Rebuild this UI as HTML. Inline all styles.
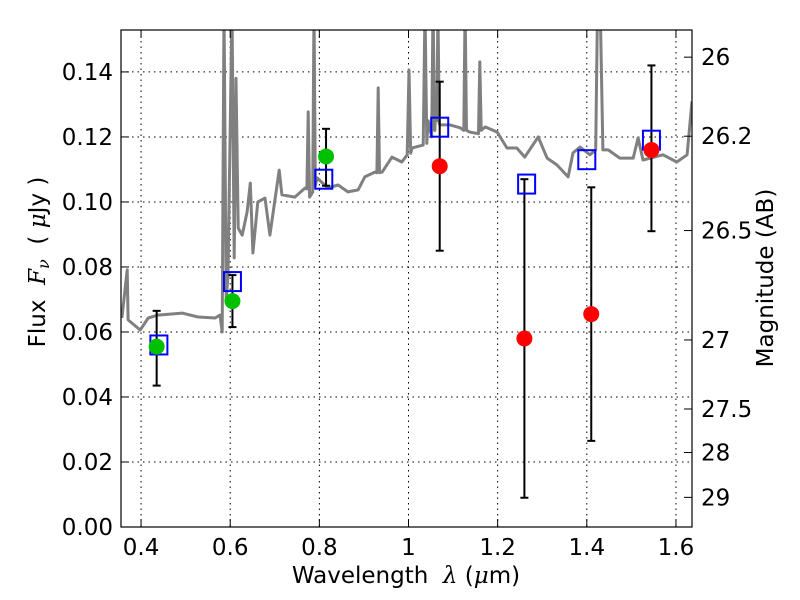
<!DOCTYPE html>
<html><head><meta charset="utf-8"><style>
body{margin:0;background:#fff;}
svg{display:block;font-family:"DejaVu Sans","Liberation Sans",sans-serif;}
</style></head><body>
<svg id="chart" width="800" height="600"></svg>
<script>
const specLam=[0.357,0.369,0.371,0.398,0.416,0.438,0.492,0.528,0.566,0.577,0.582,0.586,0.591,0.595,0.604,0.609,0.613,0.618,0.627,0.638,0.645,0.651,0.662,0.678,0.689,0.701,0.710,0.716,0.745,0.768,0.772,0.775,0.778,0.785,0.788,0.791,0.795,0.819,0.842,0.864,0.887,0.902,0.925,0.929,0.932,0.935,0.941,0.963,0.985,0.997,1.001,1.005,1.008,1.033,1.037,1.041,1.044,1.052,1.055,1.059,1.062,1.064,1.066,1.069,1.071,1.093,1.116,1.124,1.127,1.130,1.138,1.157,1.160,1.163,1.172,1.199,1.221,1.243,1.261,1.291,1.311,1.333,1.358,1.369,1.385,1.407,1.420,1.424,1.430,1.436,1.448,1.474,1.504,1.515,1.526,1.571,1.602,1.625,1.636];
const specFlux=[0.0643,0.0791,0.0637,0.0606,0.0643,0.0652,0.0658,0.0646,0.0643,0.0652,0.060,0.16,0.070,0.0775,0.16,0.0828,0.138,0.092,0.0898,0.0969,0.1058,0.0843,0.100,0.1012,0.0898,0.1012,0.1098,0.1022,0.1015,0.1043,0.1040,0.1277,0.1015,0.103,0.16,0.105,0.1074,0.1043,0.1052,0.1031,0.1037,0.1077,0.1092,0.1090,0.1351,0.1090,0.1092,0.1138,0.1123,0.1145,0.1406,0.1150,0.1166,0.1175,0.16,0.118,0.125,0.120,0.16,0.122,0.131,0.125,0.16,0.124,0.1237,0.1237,0.1228,0.122,0.16,0.122,0.1215,0.121,0.1431,0.122,0.1231,0.1215,0.1166,0.1166,0.1138,0.120,0.1135,0.1114,0.1077,0.1151,0.1169,0.1145,0.116,0.16,0.16,0.116,0.116,0.1135,0.1135,0.1197,0.1129,0.1145,0.1123,0.1145,0.131];
const greenLam=[0.435,0.605,0.815];
const greenFlux=[0.0555,0.0695,0.114];
const greenLo=[0.0435,0.0615,0.105];
const greenHi=[0.0665,0.0775,0.1225];
const redLam=[1.07,1.26,1.41,1.545];
const redFlux=[0.111,0.058,0.0655,0.116];
const redLo=[0.085,0.009,0.0265,0.091];
const redHi=[0.137,0.107,0.1045,0.142];
const boxLam=[0.44,0.605,0.81,1.07,1.265,1.40,1.545];
const boxFlux=[0.056,0.0755,0.107,0.123,0.1055,0.113,0.119];
const xTicks=[0.4,0.6,0.8,1.0,1.2,1.4,1.6];
const xTickLabels=["0.4","0.6","0.8","1","1.2","1.4","1.6"];
const yTicks=[0,0.02,0.04,0.06,0.08,0.10,0.12,0.14];
const yTickLabels=["0.00","0.02","0.04","0.06","0.08","0.10","0.12","0.14"];
const magTicks=[26,26.2,26.5,27,27.5,28,29];
const magTickLabels=["26","26.2","26.5","27","27.5","28","29"];

const L=121,R=692,T=30,B=527;
const xMin=0.355,xMax=1.636,yMin=0,yMax=0.1529;
const X=v=>L+(v-xMin)/(xMax-xMin)*(R-L);
const Y=v=>B-(v-yMin)/(yMax-yMin)*(B-T);
const NS="http://www.w3.org/2000/svg";
const svg=document.getElementById('chart');
function mk(tag,attrs,parent){const e=document.createElementNS(NS,tag);for(const k in attrs)e.setAttribute(k,attrs[k]);(parent||svg).appendChild(e);return e;}
const defs=mk('defs',{});
const cp=mk('clipPath',{id:'clip'},defs);mk('rect',{x:L,y:T,width:R-L,height:B-T},cp);

xTicks.forEach((t,i)=>{const g=mk('line',{x1:X(t),x2:X(t),y1:T,y2:B,stroke:'#000','stroke-dasharray':'1.5,4','stroke-width':1});

});
yTicks.forEach((t,i)=>{const g=mk('line',{x1:L,x2:R,y1:Y(t),y2:Y(t),stroke:'#000','stroke-dasharray':'1.5,4','stroke-width':1});

});

const pts=specLam.map((l,i)=>X(l).toFixed(1)+','+Y(specFlux[i]).toFixed(1)).join(' ');
const sp=mk('polyline',{points:pts,fill:'none',stroke:'#808080','stroke-width':3,'clip-path':'url(#clip)','stroke-linejoin':'round'});



function errbar(l,lo,hi){const g=mk('g',{stroke:'#000','stroke-width':2});


mk('line',{x1:X(l),x2:X(l),y1:Y(lo),y2:Y(hi)},g);
mk('line',{x1:X(l)-4,x2:X(l)+4,y1:Y(lo),y2:Y(lo)},g);
mk('line',{x1:X(l)-4,x2:X(l)+4,y1:Y(hi),y2:Y(hi)},g);}
greenLam.forEach((l,i)=>errbar(l,greenLo[i],greenHi[i]));
redLam.forEach((l,i)=>errbar(l,redLo[i],redHi[i]));
boxLam.forEach((l,i)=>{const r=mk('rect',{x:X(l)-8.5,y:Y(boxFlux[i])-9.5,width:17,height:19,fill:'none',stroke:'#0000ff','stroke-width':2});

});
greenLam.forEach((l,i)=>{const c=mk('circle',{cx:X(l),cy:Y(greenFlux[i]),r:8,fill:'#00c000'});

});
redLam.forEach((l,i)=>{const c=mk('circle',{cx:X(l),cy:Y(redFlux[i]),r:8,fill:'#ff0000'});

});

const fr=mk('rect',{x:L,y:T,width:R-L,height:B-T,fill:'none',stroke:'#000','stroke-width':1.2});



xTicks.forEach((t,i)=>{mk('line',{x1:X(t),x2:X(t),y1:B,y2:B-8,stroke:'#000'});mk('line',{x1:X(t),x2:X(t),y1:T,y2:T+8,stroke:'#000'});
const tx=mk('text',{x:X(t),y:B+28,'text-anchor':'middle','font-size':23});tx.textContent=xTickLabels[i];

});
yTicks.forEach((t,i)=>{mk('line',{x1:L,x2:L+8,y1:Y(t),y2:Y(t),stroke:'#000'});
const tx=mk('text',{x:L-8,y:Y(t)+8,'text-anchor':'end','font-size':23});tx.textContent=yTickLabels[i];

});
magTicks.forEach((m,i)=>{const f=Math.pow(10,(23.9-m)/2.5);mk('line',{x1:R,x2:R-8,y1:Y(f),y2:Y(f),stroke:'#000'});
const tx=mk('text',{x:R+9,y:Y(f)+8,'font-size':23});tx.textContent=magTickLabels[i];

});

const xl=mk('text',{x:406,y:583,'text-anchor':'middle','font-size':23});
xl.innerHTML='Wavelength &#160;<tspan font-family="DejaVu Serif" font-style="italic">λ</tspan> (<tspan font-family="DejaVu Serif" font-style="italic">μ</tspan>m)';


const yl=mk('text',{x:45,y:262,'text-anchor':'middle','font-size':23,transform:'rotate(-90 45 262)'});
yl.innerHTML='Flux &#160;<tspan font-family="DejaVu Serif" font-style="italic">F</tspan><tspan font-family="DejaVu Serif" font-style="italic" font-size="16" dy="4">ν</tspan><tspan dy="-4"> &#160;( </tspan><tspan font-family="DejaVu Serif" font-style="italic">μ</tspan>Jy )';


const ry=mk('text',{x:773,y:278,'text-anchor':'middle','font-size':23,transform:'rotate(-90 773 278)'});
ry.textContent='Magnitude (AB)';


</script>
</body></html>
